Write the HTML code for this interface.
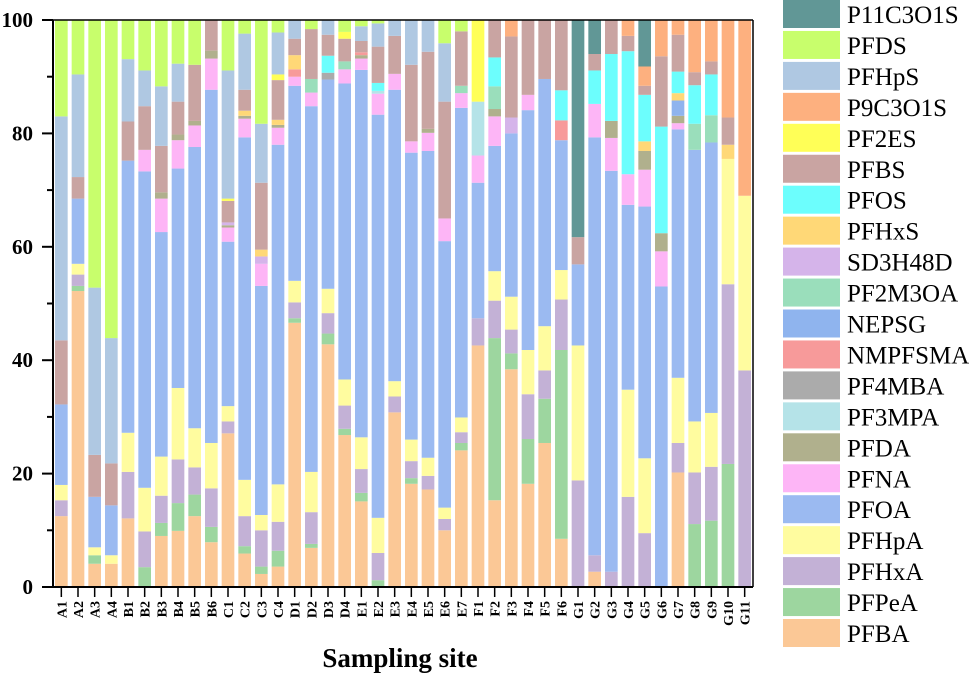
<!DOCTYPE html>
<html><head><meta charset="utf-8"><style>
html,body{margin:0;padding:0;background:#fff;}
svg{display:block;font-family:"Liberation Serif",serif;}
</style></head><body>
<svg id="chart" width="969" height="673" viewBox="0 0 969 673" xmlns="http://www.w3.org/2000/svg">
<g id="bars"></g>
<g id="axes"></g>
<g id="legend"></g>
<text x="400" y="667" text-anchor="middle" font-weight="bold" font-size="27">Sampling site</text>
</svg>
<script>
const sites = ["A1","A2","A3","A4","B1","B2","B3","B4","B5","B6","C1","C2","C3","C4","D1","D2","D3","D4","E1","E2","E3","E4","E5","E6","E7","F1","F2","F3","F4","F5","F6","G1","G2","G3","G4","G5","G6","G7","G8","G9","G10","G11"];
const yTicks = [0,20,40,60,80,100];
const seriesNames = ["PFBA","PFPeA","PFHxA","PFHpA","PFOA","PFNA","PFDA","PF3MPA","PF4MBA","NMPFSMA","NEPSG","PF2M3OA","SD3H48D","PFHxS","PFOS","PFBS","PF2ES","P9C3O1S","PFHpS","PFDS","P11C3O1S"];
const seriesColors = ["#fbc896","#9dd69f","#c3b1d6","#fffc9f","#9bbaf1","#fdb5f6","#b0b08d","#b5e3e8","#ababab","#f79a9a","#8fb4ee","#9adebb","#d5b4ea","#ffd877","#6cfefd","#c9a4a2","#ffff57","#fdb07f","#afc8e2","#c8fe6c","#619796"];
// values per series, order A1..G11
const PFBA    = [12.5,52.2,4.1,4.1, 12.1,0,9.0,9.9,12.5,7.9, 27.1,5.9,2.3,3.6, 46.6,6.9,42.8,26.8, 15.1,0,30.8,18.2,17.2,10.0,24.1, 42.6,15.3,38.4,18.2,25.4,8.5, 0,2.7,0,0,0,0,20.2,0,0,0,0];
const PFPeA   = [0,0.9,1.5,0, 0,3.5,2.3,4.9,3.8,2.7, 0,1.3,1.3,2.8, 0.8,0.7,1.9,1.1, 1.5,1.2,0,1.0,0,0,1.3, 0,28.6,2.8,7.9,7.8,33.3, 0,0,0,0,0,0,0,11.1,11.7,21.7,0];
const PFHxA   = [2.8,2.0,0,0, 8.2,6.3,4.8,7.7,4.8,6.8, 2.1,5.3,6.4,5.1, 2.8,5.6,3.6,4.1, 4.2,4.8,2.8,3.0,2.4,2.0,1.9, 4.8,6.6,4.2,7.9,5.0,8.9, 18.8,2.9,2.7,15.9,9.5,0,5.2,9.1,9.5,31.7,38.2];
const PFHpA   = [2.7,1.9,1.4,1.5, 6.9,7.7,6.9,12.6,6.9,8.0, 2.7,6.4,2.7,6.6, 3.8,7.1,4.3,4.6, 5.6,6.2,2.7,3.8,3.2,2.0,2.6, 0,5.2,5.8,7.8,7.8,5.2, 23.8,0,0,18.9,13.2,0,11.5,9.0,9.5,22.1,30.8];
const PFOA    = [14.2,11.5,8.9,8.8, 48.0,55.8,39.6,38.7,49.6,62.3, 29.0,60.4,40.4,59.9, 34.4,64.5,36.9,52.2, 64.8,71.1,51.4,50.6,54.1,47.0,54.6, 23.9,22.1,28.8,42.3,43.6,22.9, 14.3,73.7,70.7,32.6,44.4,53.0,43.8,47.9,47.7,0,0];
const PFNA    = [0,0,0,0, 0,3.8,5.9,5.0,3.8,5.5, 2.5,3.3,3.9,3.0, 1.6,2.4,0,2.5, 2.0,3.7,2.8,2.0,3.2,4.0,2.6, 4.8,5.2,0,2.7,0,0, 0,5.9,5.8,5.4,6.5,6.2,1.1,0,0,0,0];
const PFDA    = [0,0,0,0, 0,0,1.1,1.0,0.8,1.4, 0.4,0.5,0,0.5, 0,0,0,0, 0.6,0,0,0,0.7,0,0, 0,1.3,0,0,0,0, 0,0,3.0,0,3.3,3.2,1.3,0,0,0,0];
const PF3MPA  = [0,0,0,0, 0,0,0,0,0,0, 0,0,0,0, 0,0,0,0, 0,0.5,0,0,0,0,0, 9.5,0,0,0,0,0, 0,0,0,0,0,0,0,0,0,0,0];
const PF4MBA  = [0,0,0,0, 0,0,0,0,0,0, 0,0,0,0, 0,0,1.2,0, 0,0,0,0,0,0,0, 0,0,0,0,0,0, 0,0,0,0,0,0,0,0,0,0,0];
const NMPFSMA = [0,0,0,0, 0,0,0,0,0,0, 0,0,0,0, 1.3,0,0,0, 0.5,0,0,0,0,0,0, 0,0,0,0,0,3.5, 0,0,0,0,0,0,0,0,0,0,0];
const NEPSG   = [0,0,0,0, 0,0,0,0,0,0, 0,0,0,0, 0,0,0,0, 0,0,0,0,0,0,0, 0,0,0,0,0,0, 0,0,0,0,0,0,2.7,0,0,0,0];
const PF2M3OA = [0,0,0,0, 0,0,0,0,0,0, 0,0,0,0, 0,2.4,0,1.4, 0,0,0,0,0,0,1.3, 0,4.0,0,0,0,0, 0,0,0,0,0,0,0,4.6,4.8,0,0];
const SD3H48D = [0,0,0,0, 0,0,0,0,0,0, 0.5,0,1.3,0, 0,0,0,0, 0,0,0,0,0,0,0, 0,0,2.8,0,0,0, 0,0,0,0,0,0,0,0,0,0,0];
const PFHxS   = [0,0,0,0, 0,0,0,0,0,0, 0,0.9,1.2,0.9, 2.5,0,0,0, 0,0,0,0,0,0,0, 0,0,0,0,0,0, 0,0,0,0,1.7,0,1.3,0,0,2.5,0];
const PFOS    = [0,0,0,0, 0,0,0,0,0,0, 0,0,0,0, 0,0,3.0,0, 0,1.4,0,0,0,0,0, 0,5.1,0,0,0,5.3, 0,5.9,11.8,21.7,8.2,18.8,3.8,6.8,7.2,0,0];
const PFBS    = [11.3,3.8,7.4,7.4, 6.9,7.7,8.2,5.8,9.9,5.4, 3.8,3.7,11.8,7.0, 2.9,8.8,3.7,4.0, 2.0,6.4,6.7,13.5,13.6,20.6,9.6, 0,6.6,14.3,13.2,10.4,12.4, 4.8,2.9,6.0,2.7,1.6,12.4,6.5,2.3,2.3,4.8,0];
const PF2ES   = [0,0,0,0, 0,0,0,0,0,0, 0.4,0,0,1.0, 0,0,0,1.2, 0,0,0,0,0,0,0, 14.4,0,0,0,0,0, 0,0,0,0,0,0,0,0,0,0,0];
const P9C3O1S = [0,0,0,0, 0,0,0,0,0,0, 0,0,0,0, 0,0,0,0, 0,0,0,0,0,0,0, 0,0,2.9,0,0,0, 0,0,0,2.8,3.4,6.4,2.6,9.2,7.3,17.2,31.0];
const PFHpS   = [39.5,18.1,29.5,22.1, 11.0,6.3,10.5,6.7,0,0, 22.6,9.9,10.4,7.4, 3.3,0,2.6,0, 2.6,4.1,2.8,7.9,5.6,10.3,0, 0,0,0,0,0,0, 0,0,0,0,0,0,0,0,0,0,0];
const PFDS    = [17.0,9.6,47.2,56.1, 6.9,8.9,11.7,7.7,7.9,0, 8.9,2.4,18.3,2.2, 0,1.6,0,2.1, 1.1,0.6,0,0,0,4.1,2.0, 0,0,0,0,0,0, 0,0,0,0,0,0,0,0,0,0,0];
const P11C3O1S= [0,0,0,0, 0,0,0,0,0,0, 0,0,0,0, 0,0,0,0, 0,0,0,0,0,0,0, 0,0,0,0,0,0, 38.3,6.0,0,0,8.2,0,0,0,0,0,0];
const seriesValues = [PFBA,PFPeA,PFHxA,PFHpA,PFOA,PFNA,PFDA,PF3MPA,PF4MBA,NMPFSMA,NEPSG,PF2M3OA,SD3H48D,PFHxS,PFOS,PFBS,PF2ES,P9C3O1S,PFHpS,PFDS,P11C3O1S];

const NS="http://www.w3.org/2000/svg";
const X0=53, X1=753, Y0=587, Y1=20;
const band=(X1-X0)/sites.length;
function xCenter(i){return X0+(i+0.5)*band;}
function yScale(v){return Y0-(v/100)*(Y0-Y1);}
function mk(tag,attrs,parent){const e=document.createElementNS(NS,tag);for(const k in attrs)e.setAttribute(k,attrs[k]);parent.appendChild(e);return e;}

const gBars=document.getElementById('bars');
const bw=band*0.76;
sites.forEach((s,i)=>{
  let total=0; seriesValues.forEach(a=>total+=a[i]);
  let cum=0;
  seriesValues.forEach((arr,k)=>{
    const v=arr[i]; if(!v) return;
    const pct=v/total*100;
    const yTop=yScale(cum+pct), yBot=yScale(cum);
    const r=mk('rect',{x:xCenter(i)-bw/2,y:yTop,width:bw,height:yBot-yTop,fill:seriesColors[k]},gBars);
    
    
    cum+=pct;
  });
});

const gAx=document.getElementById('axes');
mk('line',{x1:X0,y1:Y1,x2:X0,y2:Y0,stroke:'#000','stroke-width':2},gAx);
mk('line',{x1:X0,y1:Y0,x2:X1,y2:Y0,stroke:'#000','stroke-width':2},gAx);
mk('line',{x1:X0,y1:Y1,x2:X1,y2:Y1,stroke:'#000','stroke-width':1.5},gAx);
mk('line',{x1:X1,y1:Y1,x2:X1,y2:Y0,stroke:'#000','stroke-width':1.5},gAx);
yTicks.forEach((t,j)=>{
  const y=yScale(t);
  mk('line',{x1:X0-11,y1:y,x2:X0,y2:y,stroke:'#000','stroke-width':2},gAx);
  if(j<yTicks.length-1){const ym=yScale(t+10);mk('line',{x1:X0-6,y1:ym,x2:X0,y2:ym,stroke:'#000','stroke-width':2},gAx);}
  const tx=mk('text',{x:X0-20,y:y+7,'text-anchor':'end','font-weight':'bold','font-size':21},gAx);
  tx.textContent=t;
  
  
});
sites.forEach((s,i)=>{
  const x=xCenter(i);
  mk('line',{x1:x,y1:Y0,x2:x,y2:Y0+10,stroke:'#000','stroke-width':1.5},gAx);
  const tx=mk('text',{x:0,y:0,'text-anchor':'end','font-weight':'bold','font-size':14,transform:'translate('+(x+5)+','+(Y0+14)+') rotate(-90)'},gAx);
  tx.textContent=s;
  
  
});

const gL=document.getElementById('legend');
for(let j=0;j<seriesNames.length;j++){
  const k=seriesNames.length-1-j;
  const y=j*30.95;
  const g=mk('g',{},gL);
  
  
  mk('rect',{x:783,y:y,width:57,height:28,fill:seriesColors[k]},g);
  const t=mk('text',{x:847,y:y+23,'font-size':25},g);
  t.textContent=seriesNames[k];
}
</script>
</body></html>
